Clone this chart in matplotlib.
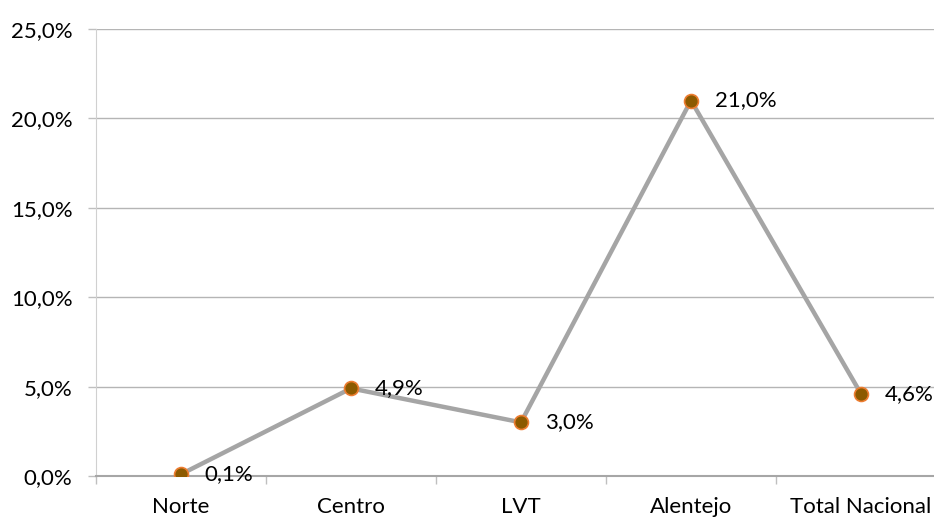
import matplotlib
matplotlib.use("Agg")
import matplotlib.pyplot as plt
from matplotlib.ticker import FuncFormatter, FixedLocator

plt.rcParams['font.family'] = ['Lato', 'DejaVu Sans']

regioes = ["Norte", "Centro", "LVT", "Alentejo", "Total Nacional"]
valores = [0.1, 4.9, 3.0, 21.0, 4.6]
y_ticks = [0, 5, 10, 15, 20, 25]

W, H = 934, 518
fig = plt.figure(figsize=(W / 100, H / 100), dpi=100)
# plot area in pixels
left, right, bottom, top = 96, 934, 518 - 476, 518 - 29
ax = fig.add_axes([left / W, bottom / H, (right - left) / W, (top - bottom) / H])

x = list(range(len(regioes)))
ax.plot(x, valores, color='#A5A5A5', lw=3.2, zorder=3, solid_capstyle='round')
ax.plot(x, valores, 'o', ms=10, mfc='#8C5A00', mec='#ED7D31', mew=1.2, zorder=4)

for xi, v in zip(x, valores):
    lbl = f"{v:.1f}%".replace('.', ',')
    ax.annotate(lbl, (xi, v), xytext=(17, 0), textcoords='offset points',
                ha='left', va='center', fontsize=16, color='#000000')

ax.yaxis.set_major_locator(FixedLocator(y_ticks))
ax.yaxis.set_major_formatter(FuncFormatter(lambda v, p: f"{v:.1f}%".replace('.', ',')))
ax.grid(axis='y', color='#B5B5B5', lw=1)
ax.set_axisbelow(True)

ax.set_xticks([i + 0.5 for i in range(-1, len(regioes))])
ax.set_xticklabels([])
ax.set_xticks(x, minor=True)
ax.set_xticklabels(regioes, minor=True)
ax.tick_params(axis='x', which='major', length=6, color='#BFBFBF', width=1)
ax.tick_params(axis='x', which='minor', length=0, pad=15, labelsize=16)
ax.tick_params(axis='y', length=6, color='#BFBFBF', width=1, labelsize=16, pad=11)

# limits after the ticks, so set_xticks does not widen them
ax.set_xlim(-0.5, (right - left) / 170 - 0.5)
ax.set_ylim(0, 25)

for s in ['top', 'right']:
    ax.spines[s].set_visible(False)
ax.spines['left'].set_color('#D0D0D0')
ax.spines['bottom'].set_color('#A6A6A6')
ax.spines['bottom'].set_linewidth(1.5)

fig.savefig("out.png", dpi=100)
